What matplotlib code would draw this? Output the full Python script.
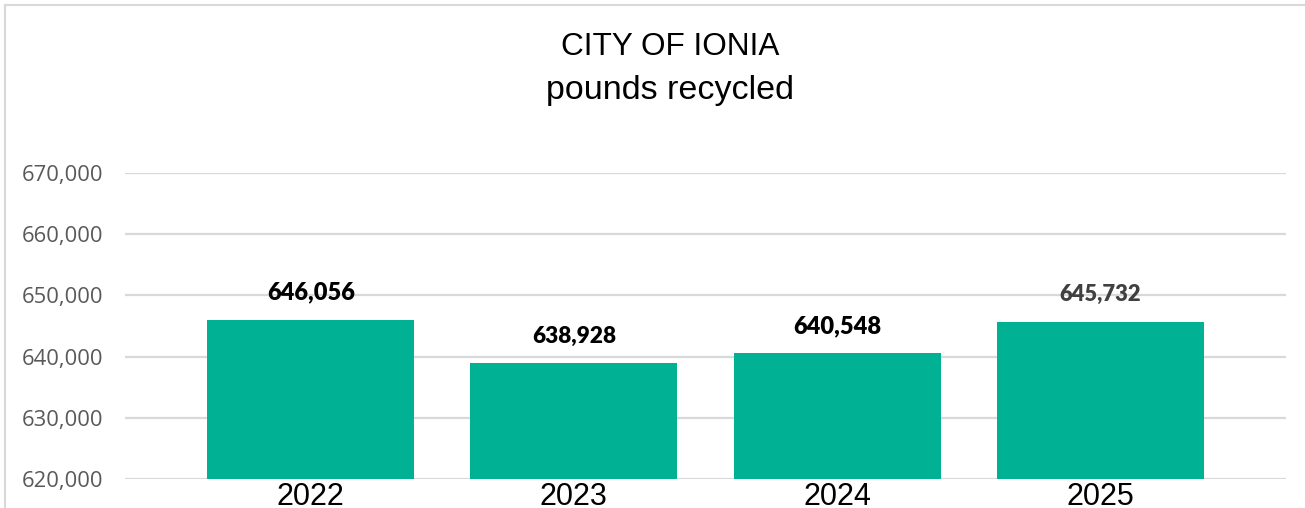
import matplotlib.pyplot as plt
from matplotlib.lines import Line2D

years = ["2022", "2023", "2024", "2025"]
pounds = [646056, 638928, 640548, 645732]
# data labels in the original don't share one style
label_sizes = [17, 16.3, 17, 15.8]
label_colors = ["#000000", "#000000", "#000000", "#404040"]
y_ticks = [620000, 630000, 640000, 650000, 660000, 670000]

bar_color = "#00B194"
grid_color = "#D9D9D9"

fig = plt.figure(figsize=(13.05, 5.08), dpi=100)
ax = fig.add_axes([0.0958, 0.0571, 0.8896, 0.6023])

x = range(len(years))
ax.bar(x, pounds, width=0.787, color=bar_color, zorder=2)

ax.set_ylim(620000, 670000)
ax.set_xlim(-0.706, 3.706)
ax.set_yticks(y_ticks)
ax.set_yticklabels([f"{v:,}" for v in y_ticks], family="Open Sans",
                   fontsize=15.8, color="#595959")
ax.set_xticks(list(x))
ax.set_xticklabels(years, family="Liberation Sans", fontsize=22, color="#000000")
ax.tick_params(axis="y", length=0, pad=16)
ax.tick_params(axis="x", length=0, pad=2)
ax.grid(axis="y", color=grid_color, linewidth=1.6, zorder=1)
ax.set_axisbelow(True)
for s in ax.spines.values():
    s.set_visible(False)

# value labels above each bar
for i, v in enumerate(pounds):
    ax.annotate(f"{v:,}", (i, v), xytext=(0, 19.5), textcoords="offset points",
                ha="center", va="center", family="Lato", fontweight="heavy",
                fontsize=label_sizes[i], color=label_colors[i])

fig.text(0.5134, 0.907, "CITY OF IONIA", ha="center", va="center",
         family="Liberation Sans", fontsize=22.7)
fig.text(0.5134, 0.822, "pounds recycled", ha="center", va="center",
         family="Liberation Sans", fontsize=24.5)

# chart frame (top and left edges visible in the crop)
fig.add_artist(Line2D([5 / 1305, 5 / 1305], [0, 1 - 5 / 508], transform=fig.transFigure,
                      color=grid_color, linewidth=1.5))
fig.add_artist(Line2D([5 / 1305, 1], [1 - 5 / 508, 1 - 5 / 508], transform=fig.transFigure,
                      color=grid_color, linewidth=1.5))

fig.savefig("out.png", dpi=100)
